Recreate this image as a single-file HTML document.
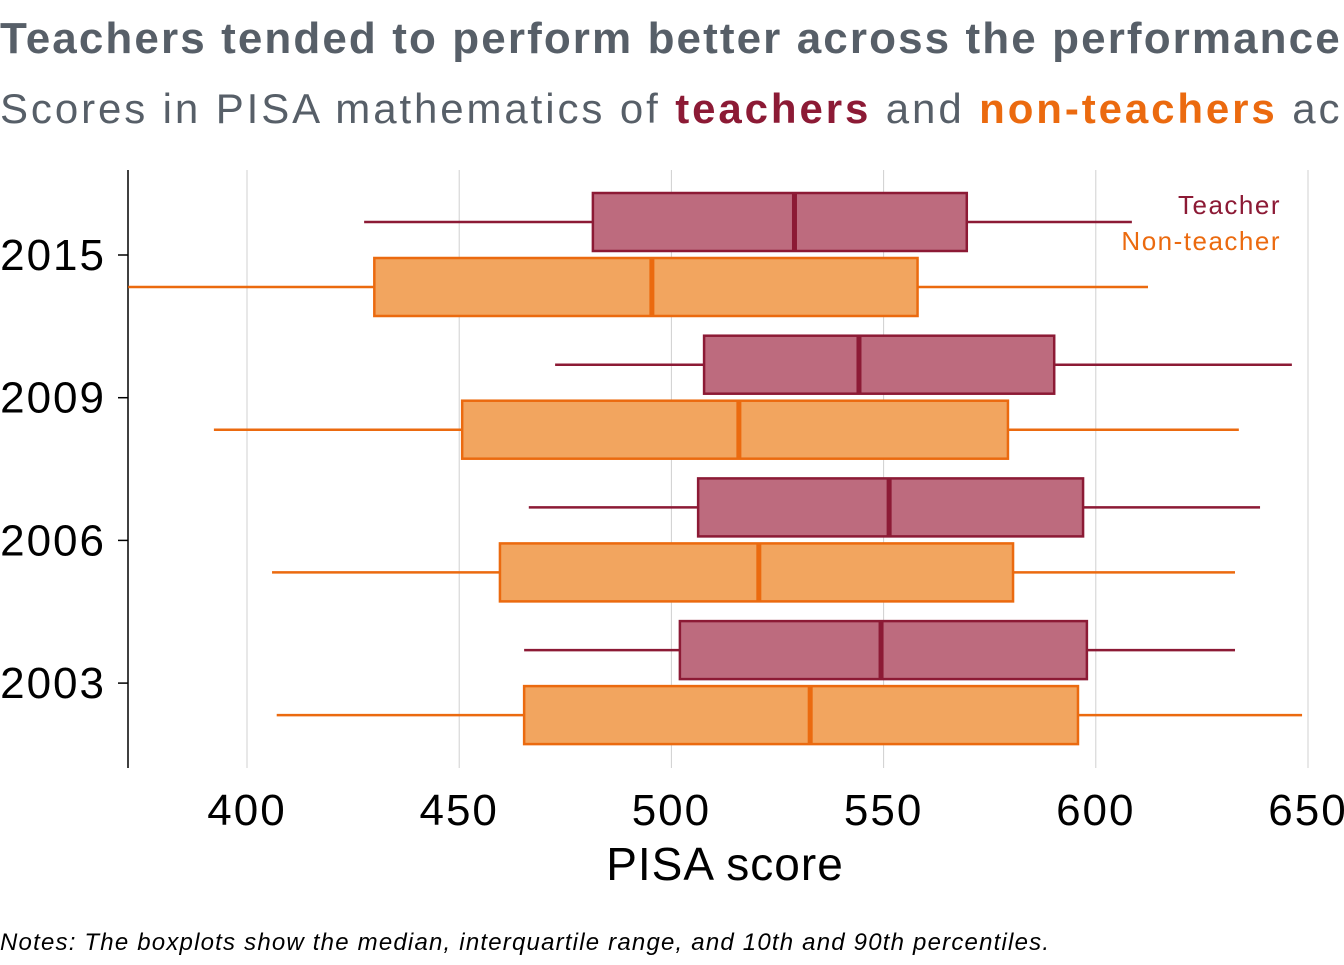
<!DOCTYPE html>
<html><head><meta charset="utf-8"><style>
body{margin:0;width:1344px;height:960px;overflow:hidden;background:#fff;font-family:"Liberation Sans",sans-serif}
</style></head><body>
<svg width="1344" height="960" xmlns="http://www.w3.org/2000/svg">
<text x="0" y="53" font-size="44" letter-spacing="2.1" font-weight="bold" fill="#575f68">Teachers tended to perform better across the performance distribution</text>
<text x="0" y="123" font-size="42" letter-spacing="2.9" fill="#575f68">Scores in PISA mathematics of <tspan font-weight="bold" fill="#8c1a35">teachers</tspan> and <tspan font-weight="bold" fill="#eb6a0f">non-teachers</tspan> across years</text>
<g id="grid"></g>
<line x1="128" y1="170" x2="128" y2="768" stroke="#000" stroke-width="1.5"/>
<g id="marks"></g>
<g id="axes"></g>
<text x="1281" y="214" font-size="26" letter-spacing="1.5" fill="#8c1a35" text-anchor="end">Teacher</text>
<text x="1281" y="250" font-size="26" letter-spacing="1.5" fill="#eb6a0f" text-anchor="end">Non-teacher</text>
<text x="725" y="880" font-size="46" letter-spacing="1" text-anchor="middle">PISA score</text>
<text x="0" y="950" font-size="24" letter-spacing="1.2" font-style="italic">Notes: The boxplots show the median, interquartile range, and 10th and 90th percentiles.</text>
</svg>
<script>
const years=["2015","2009","2006","2003"];
const teacher=[[427.6,481.5,529,569.6,608.5],[472.6,507.7,544.2,590.2,646.2],[466.4,506.3,551.3,597,638.7],[465.3,502,549.4,597.9,632.8]];
const nonTeacher=[[372,430,495.4,558,612.3],[392.2,450.7,515.9,579.3,633.7],[405.9,459.6,520.6,580.5,632.8],[407,465.3,532.7,595.8,648.6]];
const xTicks=[400,450,500,550,600,650];
const NS="http://www.w3.org/2000/svg";
const x=v=>247+(v-400)*4.244;
const y=i=>255+i*142.7;
function mk(p,t,a){const e=document.createElementNS(NS,t);for(const k in a)e.setAttribute(k,a[k]);p.appendChild(e);return e;}
const grid=document.getElementById('grid'),marks=document.getElementById('marks'),axes=document.getElementById('axes');
xTicks.forEach(t=>{
 const l=mk(grid,'line',{x1:x(t),x2:x(t),y1:170,y2:768,stroke:'#d0d0d0','stroke-width':1});
 
 
 const tx=mk(axes,'text',{x:x(t),y:825,'font-size':44,'letter-spacing':2,'text-anchor':'middle'});tx.textContent=t;
 
 
});
years.forEach((yr,i)=>{
 const tk=mk(axes,'line',{x1:118,x2:128,y1:y(i),y2:y(i),stroke:'#000','stroke-width':1.5});
 
 
 const tx=mk(axes,'text',{x:106,y:y(i)+15,'font-size':44,'letter-spacing':2,'text-anchor':'end'});tx.textContent=yr;
 
 
 [[teacher[i],-33,'#8c1a35','#bd6b7e','teacher'],[nonTeacher[i],32,'#eb6a0f','#f2a55f','non-teacher']].forEach(([d,off,s,f,n])=>{
  const cy=y(i)+off;
  const g=mk(marks,'g',{});
  
  
  mk(g,'line',{x1:x(d[0]),x2:x(d[4]),y1:cy,y2:cy,stroke:s,'stroke-width':2.5});
  mk(g,'rect',{x:x(d[1]),y:cy-29,width:x(d[3])-x(d[1]),height:58,fill:f,stroke:s,'stroke-width':2.5});
  mk(g,'line',{x1:x(d[2]),x2:x(d[2]),y1:cy-29,y2:cy+29,stroke:s,'stroke-width':5});
 });
});
</script>
</body></html>
